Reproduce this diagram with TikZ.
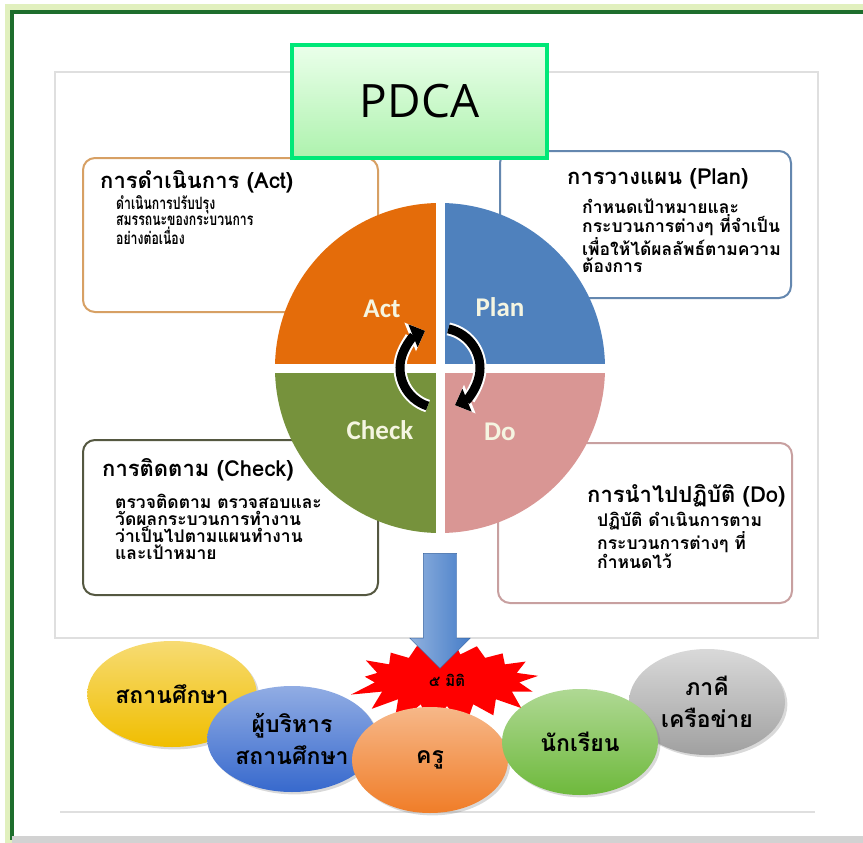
\documentclass[tikz,border=0pt]{standalone}
\usepackage{fontspec}
\setmainfont{Carlito}
\newfontfamily\thaifont[Script=Thai]{Loma}
\newfontfamily\thainarrow[Script=Thai, FakeStretch=0.72]{Loma}
\newfontfamily\pdcafont{Open Sans}
\usetikzlibrary{shapes.geometric, shapes.symbols, shapes.arrows, arrows.meta, shadows}
\definecolor{framegreen}{RGB}{30,110,45}
\definecolor{framelime}{RGB}{225,240,190}
\definecolor{pdcagreen}{RGB}{0,232,120}
\definecolor{actorange}{RGB}{228,108,10}
\definecolor{planblue}{RGB}{79,129,189}
\definecolor{checkgreen}{RGB}{118,146,60}
\definecolor{dopink}{RGB}{217,150,148}
\definecolor{actedge}{RGB}{215,160,100}
\definecolor{planedge}{RGB}{100,135,175}
\definecolor{checkedge}{RGB}{85,88,65}
\definecolor{doedge}{RGB}{200,160,160}
\definecolor{labelcream}{RGB}{245,245,225}
\definecolor{arrowblue}{RGB}{70,125,200}
\definecolor{ballyellow}{RGB}{240,190,0}
\definecolor{ballblue}{RGB}{55,105,205}
\definecolor{ballorange}{RGB}{240,125,40}
\definecolor{ballgreen}{RGB}{110,185,60}
\definecolor{ballgray}{RGB}{160,160,160}

\begin{document}
\begin{tikzpicture}[x=1pt, y=-1pt,
    card/.style={rectangle, rounded corners=12pt, line width=2pt, fill=white},
    cardtitle/.style={anchor=base west, inner sep=0pt, font=\thaifont\bfseries\fontsize{22}{24}\selectfont},
    cardbody/.style={anchor=north west, inner sep=0pt, align=left, font=\thaifont\bfseries\fontsize{17.5}{17}\selectfont},
    wheellabel/.style={text=labelcream, font=\bfseries\fontsize{27}{30}\selectfont},
    bubble/.style={ellipse, minimum width=156pt, minimum height=106pt, align=center, drop shadow={opacity=0.3}, font=\thaifont\bfseries\fontsize{23}{32}\selectfont},
    cyclearrow/.style={line width=9pt, -{Triangle[width=24pt, length=13pt]}, preaction={draw=white, line width=13pt, -{Triangle[width=30pt, length=16pt]}}}
]
    \useasboundingbox (0,0) rectangle (863,843);

    % Cornice esterna
    \draw[framelime, line width=7pt] (8,8) rectangle (890,845);
    \draw[framegreen, line width=3.5pt] (12,12) rectangle (890,838);
    \fill[gray!35] (12,836) rectangle (863,843);

    % Pannello
    \node[rectangle, draw=gray!25, line width=1.5pt, fill=white, minimum width=763pt, minimum height=566pt] (panel) at (436.5,355) {};
    \draw[gray!25, line width=1.5pt] (60,812) -- (815,812);

    % Riquadri delle fasi
    \node[card, draw=actedge, minimum width=295pt, minimum height=154pt] (act) at (230.5,235) {};
    \node[cardtitle] (acttitle) at (100,188) {การดำเนินการ (Act)};
    \node[cardbody, font=\thainarrow\bfseries\fontsize{17}{16.5}\selectfont] (actbody) at (116,195) {ดำเนินการปรับปรุง\\สมรรถนะของกระบวนการ\\อย่างต่อเนื่อง};

    \node[card, draw=planedge, minimum width=291pt, minimum height=147pt] (plan) at (645.5,224.5) {};
    \node[cardtitle] (plantitle) at (567,184) {การวางแผน (Plan)};
    \node[cardbody] (planbody) at (582,199) {กำหนดเป้าหมายและ\\กระบวนการต่างๆ ที่จำเป็น\\เพื่อให้ได้ผลลัพธ์ตามความ\\ต้องการ};

    \node[card, draw=checkedge, minimum width=295pt, minimum height=155pt] (check) at (230.5,517.5) {};
    \node[cardtitle] (checktitle) at (102,476) {การติดตาม (Check)};
    \node[cardbody] (checkbody) at (115,494) {ตรวจติดตาม ตรวจสอบและ\\วัดผลกระบวนการทำงาน\\ว่าเป็นไปตามแผนทำงาน\\และเป้าหมาย};

    \node[card, draw=doedge, minimum width=294pt, minimum height=160pt] (do) at (645,523) {};
    \node[cardtitle] (dotitle) at (587,502) {การนำไปปฏิบัติ (Do)};
    \node[cardbody] (dobody) at (597,512) {ปฏิบัติ ดำเนินการตาม\\กระบวนการต่างๆ ที่\\กำหนดไว้};

    % Ruota PDCA
    \coordinate (hub) at (440,368);
    \fill[actorange] (hub) -- ++(180:165) arc[start angle=180, end angle=270, radius=165] -- cycle;
    \fill[planblue] (hub) -- ++(270:165) arc[start angle=270, end angle=360, radius=165] -- cycle;
    \fill[dopink] (hub) -- ++(0:165) arc[start angle=0, end angle=90, radius=165] -- cycle;
    \fill[checkgreen] (hub) -- ++(90:165) arc[start angle=90, end angle=180, radius=165] -- cycle;
    \draw[white, line width=9pt] ([xshift=-170pt]hub) -- ([xshift=170pt]hub);
    \draw[white, line width=9pt] ([yshift=170pt]hub) -- ([yshift=-170pt]hub);

    \node[wheellabel] (actlbl) at (382,309) {Act};
    \node[wheellabel] (planlbl) at (500,307) {Plan};
    \node[wheellabel] (checklbl) at (380,430) {Check};
    \node[wheellabel] (dolbl) at (500,432) {Do};

    % Frecce del ciclo
    \draw[cyclearrow] ([shift={(108:40)}]hub) arc[start angle=108, end angle=248, radius=40];
    \draw[cyclearrow] ([shift={(-78:40)}]hub) arc[start angle=-78, end angle=68, radius=40];

    % Titolo
    \node[rectangle, draw=pdcagreen, line width=4pt, top color=green!8, bottom color=green!30!white!90!gray, minimum width=255pt, minimum height=113pt, font=\pdcafont\fontsize{46}{50}\selectfont] (pdca) at (419.5,101.5) {PDCA};

    % Cinque dimensioni
    \node[starburst, random starburst=7, starburst points=17, starburst point height=30pt, fill=red, minimum width=205pt, minimum height=112pt, inner sep=0pt, font=\thaifont\bfseries\fontsize{15}{16}\selectfont] (dims) at (447,680) {๕ มิติ};
    \node[single arrow, shape border rotate=270, minimum height=115pt, minimum width=60pt, single arrow head extend=13.5pt, inner sep=16.5pt, left color=arrowblue!60!white, right color=arrowblue, draw=arrowblue!80!black, line width=0.4pt] (flow) at (440,602.5) {};

    \node[bubble, top color=ballyellow!55!white, bottom color=ballyellow] (school) at (172,694) {สถานศึกษา};
    \node[bubble, top color=ballblue!55!white, bottom color=ballblue] (admin) at (292,739) {ผู้บริหาร\\สถานศึกษา};
    \node[bubble, top color=ballgray!40!white, bottom color=ballgray] (network) at (707,702) {ภาคี\\เครือข่าย};
    \node[bubble, top color=ballorange!55!white, bottom color=ballorange] (teacher) at (430,760) {ครู};
    \node[bubble, top color=ballgreen!55!white, bottom color=ballgreen] (student) at (580,742) {นักเรียน};
\end{tikzpicture}
\end{document}
